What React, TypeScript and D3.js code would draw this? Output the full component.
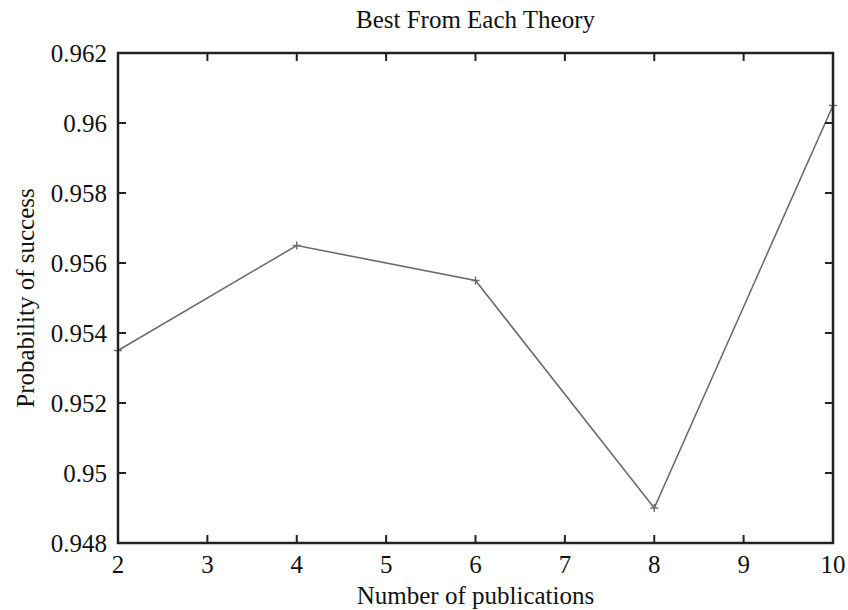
import React from "react";
import * as d3 from "d3";

const xValues = [2, 4, 6, 8, 10];
const yValues = [0.9535, 0.9565, 0.9555, 0.949, 0.9605];
const xTicks = [2, 3, 4, 5, 6, 7, 8, 9, 10];
const yTicks = [0.948, 0.95, 0.952, 0.954, 0.956, 0.958, 0.96, 0.962];
const yTickLabels = ["0.948", "0.95", "0.952", "0.954", "0.956", "0.958", "0.96", "0.962"];
const title = "Best From Each Theory";
const xLabel = "Number of publications";
const yLabel = "Probability of success";

const W = 848;
const H = 610;
const M = { left: 118, right: 833, top: 53, bottom: 543 };

export default function App() {
  const x = d3.scaleLinear().domain([2, 10]).range([M.left, M.right]);
  const y = d3.scaleLinear().domain([0.948, 0.962]).range([M.bottom, M.top]);
  const pts: [number, number][] = xValues.map((v, i) => [v, yValues[i]]);
  const line = d3
    .line<[number, number]>()
    .x((d) => x(d[0]))
    .y((d) => y(d[1]));
  const font = "'Liberation Serif', 'Times New Roman', serif";
  const fs = 25;
  const tl = 8;
  return (
    <svg width={W} height={H} style={{ position: "absolute", left: 0, top: 0, background: "#fff" }}>
      <rect x={0} y={0} width={W} height={H} fill="#fff" />
      <text x={(M.left + M.right) / 2} y={28} textAnchor="middle" fontFamily={font} fontSize={fs} fill="#111">
        {title}
      </text>
      <path d={line(pts) || ""} fill="none" stroke="#6b6b6b" strokeWidth={1.6} />
      {pts.map((d, i) => (
        <g key={i} stroke="#6b6b6b" strokeWidth={1.4}>
          <line x1={x(d[0]) - 4} x2={x(d[0]) + 4} y1={y(d[1])} y2={y(d[1])} />
          <line x1={x(d[0])} x2={x(d[0])} y1={y(d[1]) - 4} y2={y(d[1]) + 4} />
        </g>
      ))}
      <g stroke="#222" strokeWidth={2}>
        {xTicks.map((t) => (
          <g key={t}>
            <line x1={x(t)} x2={x(t)} y1={M.bottom} y2={M.bottom - tl} />
            <line x1={x(t)} x2={x(t)} y1={M.top} y2={M.top + tl} />
          </g>
        ))}
        {yTicks.map((t) => (
          <g key={t}>
            <line x1={M.left} x2={M.left + tl} y1={y(t)} y2={y(t)} />
            <line x1={M.right} x2={M.right - tl} y1={y(t)} y2={y(t)} />
          </g>
        ))}
        <rect x={M.left} y={M.top} width={M.right - M.left} height={M.bottom - M.top} fill="none" strokeWidth={2.5} />
      </g>
      {xTicks.map((t) => (
        <text key={t} x={x(t)} y={M.bottom + 30} textAnchor="middle" fontFamily={font} fontSize={fs} fill="#111">
          {t}
        </text>
      ))}
      {yTicks.map((t, i) => (
        <text key={t} x={M.left - 11} y={y(t) + 9} textAnchor="end" fontFamily={font} fontSize={fs} fill="#111">
          {yTickLabels[i]}
        </text>
      ))}
      <text x={(M.left + M.right) / 2} y={604} textAnchor="middle" fontFamily={font} fontSize={fs} fill="#111">
        {xLabel}
      </text>
      <text
        transform={`translate(34, ${(M.top + M.bottom) / 2}) rotate(-90)`}
        textAnchor="middle"
        fontFamily={font}
        fontSize={fs}
        fill="#111"
      >
        {yLabel}
      </text>
    </svg>
  );
}
